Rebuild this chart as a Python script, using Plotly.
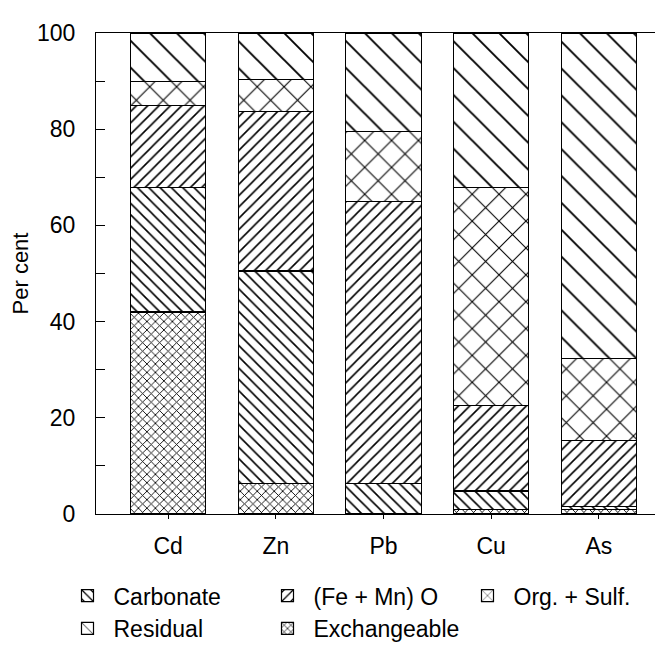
import plotly.graph_objects as go

elements = ["Cd", "Zn", "Pb", "Cu", "As"]
exchangeable = [42.0, 6.4, 0.0, 1.0, 0.9]
carbonate = [25.8, 44.1, 6.3, 3.8, 0.6]
fe_mn_oxide = [17.2, 33.1, 58.6, 17.7, 13.7]
org_sulf = [5.0, 6.8, 14.7, 45.4, 17.2]
residual = [10.0, 9.6, 20.4, 32.1, 67.6]

series = [
    ("Exchangeable", exchangeable, "x", 6, 0.27, 5),
    ("Carbonate", carbonate, "\\", 8, 0.2, 1),
    ("(Fe + Mn) O", fe_mn_oxide, "/", 8, 0.2, 2),
    ("Org. + Sulf.", org_sulf, "x", 19, 0.11, 3),
    ("Residual", residual, "\\", 19, 0.1, 4),
]

fig = go.Figure()
for name, vals, shape, size, sol, rank in series:
    fig.add_trace(go.Bar(
        x=elements, y=vals, name=name, legendrank=rank,
        marker=dict(color="white",
                    line=dict(color="black", width=1.2),
                    pattern=dict(shape=shape, size=size, solidity=sol,
                                 fgcolor="black", bgcolor="white",
                                 fgopacity=1, fillmode="overlay")),
        width=0.7,
    ))

font = "Liberation Sans, Arial, Helvetica, sans-serif"
fig.update_layout(
    barmode="stack",
    width=663, height=650,
    margin=dict(l=88, r=0, t=25, b=144),
    plot_bgcolor="white", paper_bgcolor="white",
    font=dict(family=font, size=23, color="black"),
    showlegend=True,
    legend=dict(orientation="h", x=-0.06, xanchor="left", y=-0.125, yanchor="top",
                entrywidth=143, entrywidthmode="pixels", itemwidth=42,
                font=dict(size=23), traceorder="normal"),
)
fig.update_xaxes(range=[-0.67, 4.67], showline=True, linecolor="black", linewidth=1.2,
                 mirror=True, ticks="outside", ticklen=4, tickcolor="black",
                 showgrid=False, tickfont=dict(size=23), ticklabelstandoff=7)
fig.update_yaxes(range=[0, 100], showline=True, linecolor="black", linewidth=1.2,
                 ticks="inside", ticklen=9, tickcolor="black", dtick=20,
                 minor=dict(ticks="inside", ticklen=9, dtick=10, tickcolor="black"),
                 showgrid=False, zeroline=False, tickfont=dict(size=23),
                 ticklabelstandoff=15,
                 title=dict(text="Per cent", font=dict(size=22), standoff=3))

fig.write_html("out.html")
